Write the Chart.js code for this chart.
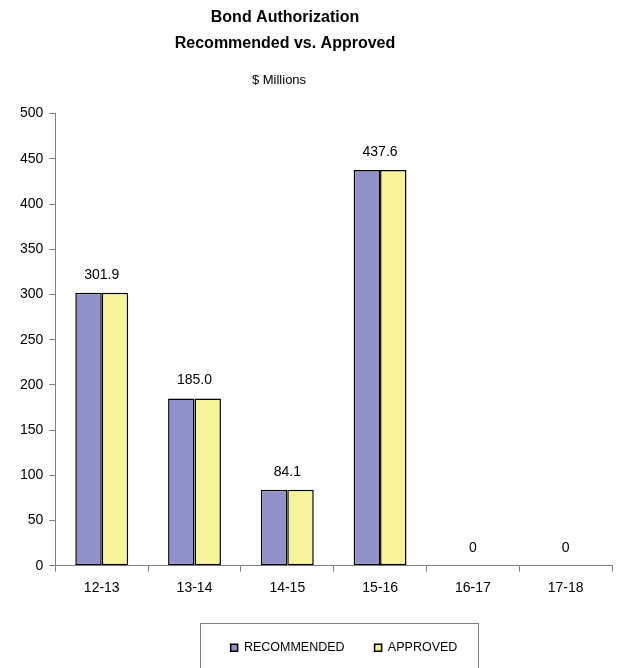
<!DOCTYPE html>
<html>
<head>
<meta charset="utf-8">
<script src="https://cdn.jsdelivr.net/npm/chart.js@4/dist/chart.umd.min.js"></script>
<style>
html,body{margin:0;padding:0;background:#fff;}
#wrap{width:618px;height:668px;position:relative;}
</style>
</head>
<body>
<div id="wrap"><canvas id="c" width="618" height="668"></canvas></div>
<script>
const categories = ['12-13','13-14','14-15','15-16','16-17','17-18'];
const recommended = [301.9, 185.0, 84.1, 437.6, 0, 0];
const approved = [301.9, 185.0, 84.1, 437.6, 0, 0];
const valueLabels = ['301.9','185.0','84.1','437.6','0','0'];
const yTicks = [0,50,100,150,200,250,300,350,400,450,500];

const TITLE_LINES = ['Bond Authorization', 'Recommended vs. Approved'];
const SUBTITLE = '$ Millions';
const FONT = "'Liberation Sans', Arial, sans-serif";

const labelPlugin = {
  id: 'valueLabels',
  afterDatasetsDraw(chart) {
    const ctx = chart.ctx;
    const xs = chart.scales.x;
    ctx.save();
    ctx.font = "14px " + FONT;
    ctx.fillStyle = '#000';
    ctx.textAlign = 'center';
    ctx.textBaseline = 'bottom';
    categories.forEach((c, i) => {
      let top = Infinity;
      chart.data.datasets.forEach((ds, di) => {
        const el = chart.getDatasetMeta(di).data[i];
        if (el) top = Math.min(top, el.y);
      });
      ctx.fillText(valueLabels[i], xs.getPixelForValue(i), top - 11);
    });
    ctx.restore();
  }
};

const shiftPlugin = {
  id: 'shiftBlocks',
  afterLayout(chart) {
    chart.boxes.forEach(b => {
      if (!b.options) return;
      const t = b.options.text;
      if (Array.isArray(t) && t[0] === TITLE_LINES[0]) { b.left -= 28; b.right -= 28; }
      else if (t === SUBTITLE) { b.left -= 34; b.right -= 34; }
    });
    const lg = chart.legend;
    if (lg) { lg.left += 31; lg.right += 31; }
  },
  afterDraw(chart) {
    const lg = chart.legend;
    if (!lg) return;
    const cx = (lg.left + lg.right) / 2 - 5;
    const ctx = chart.ctx;
    ctx.save();
    ctx.strokeStyle = '#808080';
    ctx.lineWidth = 1;
    ctx.strokeRect(Math.round(cx - 139) + 0.5, 623.5, 278, 60);
    ctx.restore();
  }
};

new Chart(document.getElementById('c'), {
  type: 'bar',
  data: {
    labels: categories,
    datasets: [
      { label: 'RECOMMENDED', data: recommended, backgroundColor: '#9191C9', borderColor: '#000', borderWidth: 1.5, borderSkipped: false },
      { label: 'APPROVED', data: approved, backgroundColor: '#F7F39B', borderColor: '#000', borderWidth: 1.5, borderSkipped: false }
    ]
  },
  options: {
    responsive: false,
    animation: false,
    devicePixelRatio: 1,
    layout: { padding: { left: 14, right: 6, top: 2, bottom: 4 } },
    datasets: { bar: { barPercentage: 1.0, categoryPercentage: 0.57 } },
    plugins: {
      title: {
        display: true,
        text: TITLE_LINES,
        color: '#000',
        font: { family: FONT, size: 16, weight: 'bold', lineHeight: 1.625 },
        padding: { top: 3, bottom: 16 }
      },
      subtitle: {
        display: true,
        text: SUBTITLE,
        color: '#000',
        font: { family: FONT, size: 13 },
        padding: { top: 0, bottom: 25 }
      },
      legend: {
        position: 'bottom',
        labels: {
          color: '#000',
          font: { family: FONT, size: 12.5 },
          boxWidth: 7, boxHeight: 7,
          padding: 30,
          useBorderRadius: false,
          generateLabels(chart) {
            return chart.data.datasets.map((ds, i) => ({
              text: ds.label, fillStyle: ds.backgroundColor, strokeStyle: '#000',
              lineWidth: 1.5, datasetIndex: i, hidden: false
            }));
          }
        }
      },
      tooltip: { enabled: false }
    },
    scales: {
      x: {
        afterFit(axis) { axis.height += 7; },
        grid: { offset: true, drawOnChartArea: false, drawTicks: true, tickLength: 6, color: '#808080' },
        border: { color: '#808080', width: 1 },
        ticks: { color: '#000', font: { family: FONT, size: 14 }, padding: 8 }
      },
      y: {
        min: 0, max: 500,
        afterBuildTicks(axis) { axis.ticks = yTicks.map(v => ({ value: v })); },
        grid: { drawOnChartArea: false, drawTicks: true, tickLength: 6, color: '#808080' },
        border: { color: '#808080', width: 1 },
        ticks: { color: '#000', font: { family: FONT, size: 14 }, padding: 6 }
      }
    }
  },
  plugins: [labelPlugin, shiftPlugin]
});
</script>
</body>
</html>
